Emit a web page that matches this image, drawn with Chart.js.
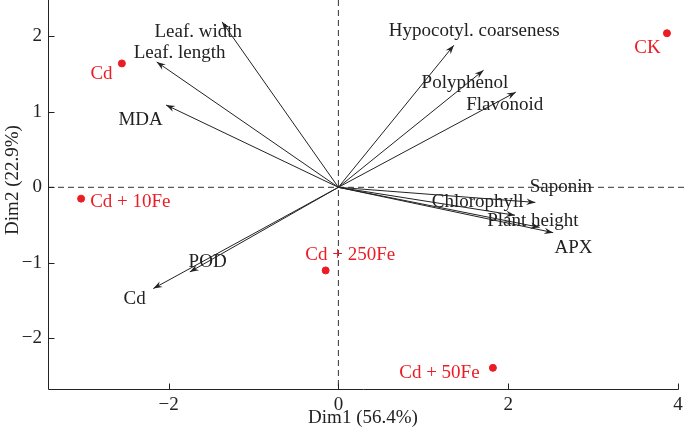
<!DOCTYPE html>
<html>
<head>
<meta charset="utf-8">
<script src="https://cdn.jsdelivr.net/npm/chart.js@4.4.1/dist/chart.umd.min.js"></script>
<style>
  html, body { margin: 0; padding: 0; background: #fff; }
  #pca { display: block; }
</style>
</head>
<body>
<canvas id="pca" width="685" height="440"></canvas>
<script>
// samples (individuals)
const sampleNames = ["CK", "Cd", "Cd + 10Fe", "Cd + 50Fe", "Cd + 250Fe"];
const sampleX = [3.87, -2.55, -3.03, 1.82, -0.15];
const sampleY = [2.04, 1.64, -0.15, -2.39, -1.10];
const sampleLabelX = [3.64, -2.79, -2.45, 1.19, 0.14];
const sampleLabelY = [1.84, 1.50, -0.19, -2.46, -0.90];

// variables (arrows)
const varNames = ["Leaf. width", "Leaf. length", "MDA", "Hypocotyl. coarseness", "Polyphenol",
  "Flavonoid", "Saponin", "Chlorophyll", "Plant height", "APX", "POD", "Cd"];
const varX = [-1.37, -2.14, -2.03, 1.36, 1.71, 2.09, 2.32, 2.08, 2.37, 2.53, -1.75, -2.18];
const varY = [2.19, 1.66, 1.09, 1.88, 1.55, 1.26, -0.20, -0.37, -0.53, -0.60, -1.12, -1.34];
const varLabelX = [-1.65, -1.87, -2.33, 1.60, 1.49, 1.96, 2.62, 1.64, 2.29, 2.77, -1.54, -2.40];
const varLabelY = [2.05, 1.78, 0.89, 2.07, 1.38, 1.09, 0.00, -0.19, -0.44, -0.80, -0.99, -1.48];

const xTicks = [-2, 0, 2, 4];
const yTicks = [-2, -1, 0, 1, 2];

const FONT = "'Liberation Serif', 'Times New Roman', serif";
const INK = "#222222";
const RED = "#ec1c24";

const arrowSets = varNames.map(function (name, i) {
    return {
        type: "line",
        label: name,
        data: [{ x: 0, y: 0 }, { x: varX[i], y: varY[i] }],
        borderColor: INK,
        borderWidth: 1,
        pointRadius: 0,
        fill: false
    };
});

const biplotPlugin = {
    id: "biplotPlugin",
    beforeDatasetsDraw: function (chart) {
        const ctx = chart.ctx;
        const xs = chart.scales.x, ys = chart.scales.y;
        const x0 = xs.getPixelForValue(0), y0 = ys.getPixelForValue(0);
        ctx.save();
        ctx.strokeStyle = "#333";
        ctx.lineWidth = 1;
        ctx.setLineDash([6, 4]);
        ctx.beginPath();
        ctx.moveTo(chart.chartArea.left, y0);
        ctx.lineTo(chart.width, y0);
        ctx.moveTo(x0, 0);
        ctx.lineTo(x0, chart.chartArea.bottom);
        ctx.stroke();
        ctx.restore();
    },
    afterDatasetsDraw: function (chart) {
        const ctx = chart.ctx;
        const xs = chart.scales.x, ys = chart.scales.y;
        const area = chart.chartArea;
        const ox = xs.getPixelForValue(0), oy = ys.getPixelForValue(0);
        ctx.save();

        // arrow heads
        ctx.fillStyle = INK;
        varNames.forEach(function (n, i) {
            const tx = xs.getPixelForValue(varX[i]);
            const ty = ys.getPixelForValue(varY[i]);
            const a = Math.atan2(ty - oy, tx - ox);
            const len = 9, half = 3.2;
            ctx.beginPath();
            ctx.moveTo(tx, ty);
            ctx.lineTo(tx - len * Math.cos(a) + half * Math.sin(a), ty - len * Math.sin(a) - half * Math.cos(a));
            ctx.lineTo(tx - 6 * Math.cos(a), ty - 6 * Math.sin(a));
            ctx.lineTo(tx - len * Math.cos(a) - half * Math.sin(a), ty - len * Math.sin(a) + half * Math.cos(a));
            ctx.closePath();
            ctx.fill();
        });

        // labels
        ctx.font = "19px " + FONT;
        ctx.textAlign = "center";
        ctx.textBaseline = "middle";
        ctx.fillStyle = INK;
        varNames.forEach(function (n, i) {
            ctx.fillText(n, xs.getPixelForValue(varLabelX[i]), ys.getPixelForValue(varLabelY[i]));
        });
        ctx.fillStyle = RED;
        sampleNames.forEach(function (n, i) {
            ctx.fillText(n, xs.getPixelForValue(sampleLabelX[i]), ys.getPixelForValue(sampleLabelY[i]));
        });

        // inward tick marks and axis lines
        ctx.strokeStyle = INK;
        ctx.lineWidth = 1;
        ctx.beginPath();
        const bx = Math.round(area.left) + 0.5, by = Math.round(area.bottom) + 0.5;
        ctx.moveTo(bx, 0);
        ctx.lineTo(bx, by);
        ctx.lineTo(area.right + 0.5, by);
        xTicks.forEach(function (v) {
            const px = Math.round(xs.getPixelForValue(v)) + 0.5;
            ctx.moveTo(px, by);
            ctx.lineTo(px, by - 6);
        });
        yTicks.forEach(function (v) {
            const py = Math.round(ys.getPixelForValue(v)) + 0.5;
            ctx.moveTo(bx, py);
            ctx.lineTo(bx + 6, py);
        });
        ctx.stroke();

        // axis titles
        ctx.fillStyle = INK;
        ctx.textBaseline = "alphabetic";
        ctx.fillText("Dim1 (56.4%)", (area.left + area.right) / 2, 423);
        ctx.translate(18, 180);
        ctx.rotate(-Math.PI / 2);
        ctx.fillText("Dim2 (22.9%)", 0, 0);
        ctx.restore();
    }
};

function minusFmt(v) {
    return v < 0 ? "\u2212" + Math.abs(v) : String(v);
}

new Chart(document.getElementById("pca").getContext("2d"), {
    type: "scatter",
    data: {
        datasets: arrowSets.concat([{
            type: "scatter",
            label: "samples",
            data: sampleX.map(function (x, i) { return { x: x, y: sampleY[i] }; }),
            backgroundColor: RED,
            borderColor: RED,
            pointRadius: 3.5,
            pointHoverRadius: 3.5
        }])
    },
    options: {
        responsive: false,
        animation: false,
        events: [],
        layout: { padding: { top: 0, right: 7, left: 0, bottom: 0 } },
        plugins: { legend: { display: false }, tooltip: { enabled: false } },
        scales: {
            x: {
                type: "linear",
                min: -3.42,
                max: 4.0,
                grid: { display: false, drawTicks: false },
                border: { display: false },
                afterBuildTicks: function (s) { s.ticks = xTicks.map(function (v) { return { value: v }; }); },
                afterFit: function (s) { s.height = 51; s.paddingLeft = 0; s.paddingRight = 0; },
                ticks: {
                    padding: 5,
                    maxRotation: 0,
                    color: INK,
                    font: { family: FONT, size: 19 },
                    callback: minusFmt
                }
            },
            y: {
                type: "linear",
                min: -2.67,
                max: 2.42,
                grid: { display: false, drawTicks: false },
                border: { display: false },
                afterBuildTicks: function (s) { s.ticks = yTicks.map(function (v) { return { value: v }; }); },
                afterFit: function (s) { s.width = 48; s.paddingTop = 0; s.paddingBottom = 0; },
                ticks: {
                    padding: 6,
                    color: INK,
                    font: { family: FONT, size: 19 },
                    callback: minusFmt
                }
            }
        }
    },
    plugins: [biplotPlugin]
});
</script>
</body>
</html>
